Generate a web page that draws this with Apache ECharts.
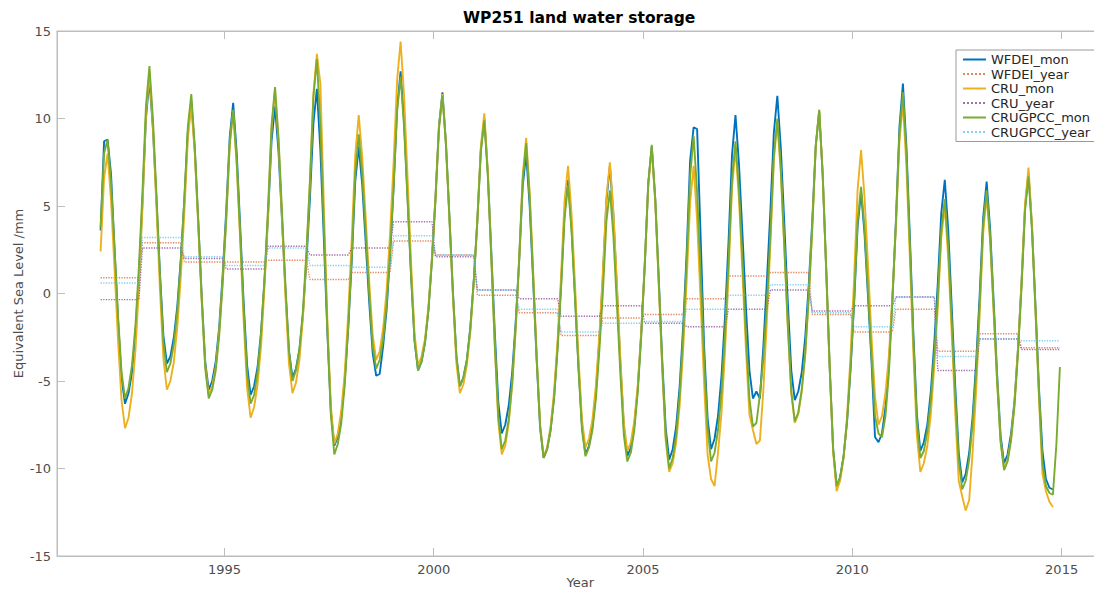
<!DOCTYPE html>
<html><head><meta charset="utf-8">
<script src="https://cdn.jsdelivr.net/npm/echarts@6/dist/echarts.min.js"></script>
<style>html,body{margin:0;padding:0;background:#fff}#c{width:1094px;height:593px}</style>
</head><body><div id="c"></div>
<script>
const years = [1992,1993,1994,1995,1996,1997,1998,1999,2000,2001,2002,2003,2004,2005,2006,2007,2008,2009,2010,2011,2012,2013,2014];
const xTicks = [1995,2000,2005,2010,2015];
const seriesNames = ['WFDEI_mon','WFDEI_year','CRU_mon','CRU_year','CRUGPCC_mon','CRUGPCC_year'];

// monthly values, one row per year (Jan..Dec)
const WFDEI_mon = [
[3.6,8.7,8.8,6.8,2.5,-1.5,-4.8,-6.3,-5.7,-4.5,-2.2,1.1],
[5.2,10.0,12.2,9.4,5.4,1.2,-2.4,-4.0,-3.6,-2.5,-0.7,2.0],
[5.3,9.2,11.0,8.2,4.1,-0.2,-3.9,-5.5,-5.0,-3.9,-1.9,1.1],
[4.7,8.9,10.9,8.1,3.9,-0.5,-4.1,-5.8,-5.3,-4.2,-2.2,0.8],
[4.4,8.7,10.7,8.1,4.2,0.2,-3.3,-4.8,-4.3,-3.2,-1.2,1.8],
[5.4,9.7,11.7,8.2,3.1,-2.2,-6.7,-8.7,-8.2,-7.0,-4.9,-1.9],
[1.9,6.4,8.4,6.2,2.9,-0.5,-3.4,-4.7,-4.6,-3.0,-0.9,2.3],
[6.1,10.6,12.7,9.8,5.5,1.1,-2.7,-4.4,-3.9,-2.8,-0.9,2.0],
[5.5,9.6,11.5,8.6,4.4,0.1,-3.6,-5.3,-4.8,-3.8,-1.9,0.8],
[4.2,8.2,10.0,6.9,2.4,-2.2,-6.2,-8.0,-7.5,-6.4,-4.5,-1.6],
[1.9,6.1,8.0,5.0,0.7,-3.8,-7.7,-9.4,-8.9,-7.8,-5.9,-3.0],
[0.5,4.6,6.5,3.8,-0.1,-4.2,-7.6,-9.2,-8.7,-7.6,-5.6,-2.6],
[1.0,5.3,7.3,4.5,0.3,-4.0,-7.6,-9.3,-8.8,-7.5,-5.4,-2.2],
[1.7,6.3,8.4,5.4,0.9,-3.8,-7.7,-9.5,-8.9,-7.6,-5.3,-1.9],
[2.3,7.6,9.5,9.4,3.3,-3.0,-7.1,-8.9,-8.3,-7.0,-4.7,-1.3],
[2.9,7.9,10.2,7.4,3.4,-0.8,-4.4,-6.0,-5.6,-6.0,-3.0,0.7],
[4.7,9.2,11.3,8.3,4.0,-0.5,-4.4,-6.1,-5.6,-4.5,-2.5,0.5],
[4.1,8.4,10.4,6.8,1.4,-4.2,-8.9,-11.0,-10.5,-9.3,-7.3,-4.3],
[-0.6,3.8,5.8,3.4,-0.2,-3.9,-8.2,-8.5,-8.0,-6.5,-4.0,-0.3],
[4.2,9.5,12.0,8.4,3.2,-2.3,-6.9,-9.0,-8.5,-7.5,-5.6,-2.8],
[0.6,4.6,6.5,3.6,-0.8,-5.3,-9.1,-10.8,-10.3,-9.1,-7.0,-3.9],
[-0.1,4.3,6.4,3.7,-0.4,-4.6,-8.1,-9.7,-9.2,-8.0,-6.1,-3.1],
[0.6,4.9,6.9,3.8,-0.7,-5.4,-9.0,-10.6,-11.1,-11.2,null,null]
];
const CRU_mon = [
[2.4,6.6,8.0,5.3,1.4,-2.7,-6.1,-7.7,-7.1,-5.7,-3.2,0.4],
[4.9,10.2,12.6,9.5,5.0,0.3,-3.7,-5.5,-5.0,-3.9,-1.9,1.0],
[4.6,8.8,10.8,8.0,3.8,-0.5,-4.1,-5.8,-5.3,-4.2,-2.2,0.7],
[4.2,8.5,10.4,7.4,3.1,-1.5,-5.4,-7.1,-6.5,-5.2,-3.0,0.4],
[4.5,9.4,11.6,8.7,4.3,-0.2,-4.0,-5.7,-5.1,-3.8,-1.4,2.1],
[6.3,11.4,13.7,12.0,5.0,-1.5,-6.4,-8.6,-8.0,-6.7,-4.5,-1.1],
[3.1,7.9,10.2,7.8,4.3,0.7,-2.4,-3.8,-3.3,-2.0,0.2,3.5],
[7.5,12.2,14.4,11.3,6.6,1.8,-2.3,-4.1,-3.6,-2.6,-0.7,2.1],
[5.5,9.5,11.4,8.5,4.2,-0.2,-4.0,-5.7,-5.2,-4.1,-2.2,0.7],
[4.2,8.4,10.3,7.0,2.1,-3.0,-7.3,-9.2,-8.7,-7.4,-5.2,-2.0],
[2.0,6.7,8.9,5.8,1.3,-3.5,-7.5,-9.3,-8.8,-7.6,-5.6,-2.7],
[1.0,5.3,7.3,4.6,0.5,-3.7,-7.2,-8.8,-8.3,-7.2,-5.2,-2.3],
[1.3,5.5,7.5,4.7,0.6,-3.7,-7.4,-9.0,-8.5,-7.3,-5.2,-2.1],
[1.7,6.2,8.3,5.2,0.5,-4.3,-8.4,-10.2,-9.7,-8.5,-6.4,-3.2],
[0.7,5.2,7.3,4.2,-0.4,-5.1,-9.2,-10.6,-11.0,-9.1,-6.8,-3.3],
[1.0,6.0,8.3,5.4,1.2,-3.2,-6.9,-7.8,-8.6,-8.4,-5.5,-1.5],
[2.8,7.6,9.8,6.9,2.6,-1.9,-5.7,-7.4,-6.9,-5.6,-3.5,-0.2],
[3.7,8.4,10.5,6.8,1.3,-4.3,-9.1,-11.3,-10.7,-9.4,-7.0,-3.5],
[0.8,5.9,8.2,5.5,1.6,-2.5,-5.9,-7.5,-7.0,-5.7,-3.5,-0.1],
[3.9,8.7,10.9,7.3,2.0,-3.4,-8.1,-10.2,-9.7,-8.7,-6.9,-4.1],
[-0.8,3.2,5.0,2.0,-2.3,-6.8,-10.7,-11.6,-12.4,-11.8,-9.0,-5.5],
[-1.2,3.4,5.6,3.0,-1.0,-5.0,-8.4,-10.0,-9.5,-8.3,-6.2,-3.1],
[0.7,5.1,7.2,3.9,-1.0,-6.0,-10.3,-11.3,-11.9,-12.2,null,null]
];
const CRUGPCC_mon = [
[3.8,8.0,8.8,6.3,2.6,-1.3,-4.5,-6.0,-5.4,-4.1,-1.8,1.6],
[5.8,10.7,13.0,10.0,5.7,1.1,-2.8,-4.5,-4.0,-2.9,-1.0,1.9],
[5.4,9.5,11.4,8.4,4.1,-0.4,-4.3,-6.0,-5.5,-4.4,-2.4,0.6],
[4.2,8.5,10.5,7.6,3.4,-0.9,-4.6,-6.3,-5.8,-4.5,-2.3,0.9],
[4.9,9.6,11.8,8.9,4.7,0.4,-3.3,-5.0,-4.4,-3.2,-1.0,2.4],
[6.4,11.2,13.4,9.6,3.9,-2.0,-6.9,-9.2,-8.6,-7.4,-5.2,-1.9],
[2.1,6.9,9.1,6.8,3.5,0.0,-3.0,-4.3,-3.8,-2.6,-0.6,2.4],
[6.1,10.4,12.4,9.5,5.3,1.0,-2.7,-4.4,-3.9,-2.8,-0.9,1.9],
[5.3,9.4,11.3,8.5,4.3,0.0,-3.6,-5.3,-4.8,-3.8,-2.0,0.8],
[4.1,8.1,9.9,6.7,2.0,-2.9,-7.0,-8.9,-8.4,-7.2,-5.1,-1.9],
[2.0,6.5,8.6,5.5,1.0,-3.6,-7.6,-9.4,-8.9,-7.8,-6.0,-3.2],
[0.3,4.3,6.2,3.6,-0.3,-4.3,-7.8,-9.3,-8.8,-7.8,-6.0,-3.2],
[0.1,4.1,5.9,3.3,-0.6,-4.6,-8.1,-9.6,-9.1,-7.8,-5.6,-2.4],
[1.6,6.3,8.5,5.4,0.7,-4.1,-8.2,-10.0,-9.4,-8.1,-5.8,-2.4],
[1.8,6.7,9.0,5.8,1.2,-3.7,-7.7,-9.6,-9.1,-7.8,-5.6,-2.3],
[1.8,6.5,8.7,5.9,1.9,-2.4,-6.0,-7.6,-7.4,-5.8,-3.7,-0.6],
[3.3,7.9,10.0,7.1,2.7,-1.8,-5.6,-7.3,-6.8,-5.5,-3.4,-0.2],
[3.7,8.4,10.5,6.8,1.5,-4.1,-8.9,-11.0,-10.5,-9.3,-7.2,-4.2],
[-0.4,4.1,6.1,3.7,0.1,-3.6,-7.0,-8.0,-8.2,-7.0,-4.5,-0.3],
[4.0,9.1,11.5,8.0,2.7,-2.7,-7.3,-9.4,-9.0,-7.9,-6.1,-3.5],
[-0.2,3.6,5.4,2.6,-1.6,-5.9,-9.5,-11.2,-10.7,-9.5,-7.4,-4.4],
[-0.6,3.9,5.9,3.2,-0.8,-5.0,-8.5,-10.1,-9.6,-8.4,-6.4,-3.4],
[0.3,4.7,6.7,3.6,-0.9,-5.7,-9.7,-11.0,-11.4,-11.5,-8.6,-4.2]
];
// yearly means, one value per year
const WFDEI_year   = [0.9,2.9,1.8,1.8,1.9,0.8,1.2,3.0,2.2,-0.1,-1.1,-2.4,-1.4,-1.2,-0.3,1.0,1.2,-1.2,-2.2,-0.9,-3.3,-2.3,-3.1];
const CRU_year     = [-0.35,2.6,2.0,1.4,2.7,2.2,2.6,4.1,2.1,0.2,-0.3,-1.3,-0.7,-1.7,-1.9,-0.9,0.2,-1.0,-0.7,-0.2,-4.4,-2.6,-3.2];
const CRUGPCC_year = [0.6,3.2,2.1,1.6,2.6,1.6,1.5,3.3,2.2,0.2,-0.9,-2.2,-1.7,-1.6,-0.9,-0.1,0.5,-1.1,-1.9,-0.2,-3.6,-2.6,-2.7];

const colors = ['#0072BD','#D95319','#EDB120','#7E2F8E','#77AC30','#4DBEEE'];

function monthly(rows){
  const out=[];
  rows.forEach((r,i)=>r.forEach((v,m)=>{ if(v!==null) out.push([years[i]+(m+0.5)/12, v]); }));
  return out;
}
function yearly(vals){
  const out=[];
  vals.forEach((v,i)=>{ for(let m=0;m<12;m++) out.push([years[i]+(m+0.5)/12, v]); });
  return out;
}
const FONT='DejaVu Sans';
const AX='#bdbdbd';
const chart = echarts.init(document.getElementById('c'), null, {renderer:'svg', width:1094, height:593});
function mk(name, data, idx, yearlyLine){
  return {name, type:'line', data, symbol:'none', showSymbol:false, silent:true, animation:false,
    color: colors[idx],
    itemStyle:{color:colors[idx]},
    lineStyle:{color:colors[idx], width: yearlyLine?1.3:1.9, type: yearlyLine?'dotted':'solid', opacity: yearlyLine?0.7:1},
    emphasis:{disabled:true}};
}
chart.setOption({
  animation:false,
  backgroundColor:'#ffffff',
  title:{text:'WP251 land water storage', left:463, top:10, padding:0,
    textStyle:{fontFamily:FONT, fontWeight:'bold', fontSize:15.5, color:'#000'}},
  grid:{left:57, top:31, width:1046.5, height:525, show:true, borderColor:AX, borderWidth:1, containLabel:false, outerBoundsMode:'none'},
  legend:{orient:'vertical', left:956, top:50, itemWidth:23, itemHeight:12, itemGap:1.5,
    padding:[3,6,3,6], backgroundColor:'#fff', borderColor:'#9a9a9a', borderWidth:1, borderRadius:0,
    itemStyle:{opacity:0, borderWidth:0},
    textStyle:{fontFamily:FONT, fontSize:13, color:'#262626'},
    data:seriesNames},
  xAxis:[
    {type:'value', min:1991, max:2016, position:'bottom',
     axisLine:{show:true, onZero:false, lineStyle:{color:AX, width:1}},
     axisTick:{show:true, inside:true, length:8, customValues:xTicks, lineStyle:{color:AX}},
     axisLabel:{show:true, customValues:xTicks, formatter:(v)=>String(v), color:'#4d4d4d', fontFamily:FONT, fontSize:13, margin:7},
     splitLine:{show:false},
     name:'Year', nameLocation:'middle', nameGap:20, nameMoveOverlap:false,
     nameTextStyle:{fontFamily:FONT, fontSize:13, color:'#4d4d4d'}},
    {type:'value', min:1991, max:2016, position:'top',
     axisLine:{show:true, onZero:false, lineStyle:{color:AX, width:1}},
     axisTick:{show:true, inside:true, length:8, customValues:xTicks, lineStyle:{color:AX}},
     axisLabel:{show:false}, splitLine:{show:false}}
  ],
  yAxis:[
    {type:'value', min:-15, max:15, interval:5, position:'left',
     axisLine:{show:true, onZero:false, lineStyle:{color:AX, width:1}},
     axisTick:{show:true, inside:true, length:8, lineStyle:{color:AX}},
     axisLabel:{color:'#4d4d4d', fontFamily:FONT, fontSize:13, margin:6},
     splitLine:{show:false},
     name:'Equivalent Sea Level /mm', nameLocation:'middle', nameGap:32, nameRotate:90, nameMoveOverlap:false,
     nameTextStyle:{fontFamily:FONT, fontSize:13, color:'#4d4d4d'}}
  ],
  series:[
    mk('WFDEI_mon', monthly(WFDEI_mon), 0, false),
    mk('WFDEI_year', yearly(WFDEI_year), 1, true),
    mk('CRU_mon', monthly(CRU_mon), 2, false),
    mk('CRU_year', yearly(CRU_year), 3, true),
    mk('CRUGPCC_mon', monthly(CRUGPCC_mon), 4, false),
    mk('CRUGPCC_year', yearly(CRUGPCC_year), 5, true)
  ]
});
</script></body></html>
